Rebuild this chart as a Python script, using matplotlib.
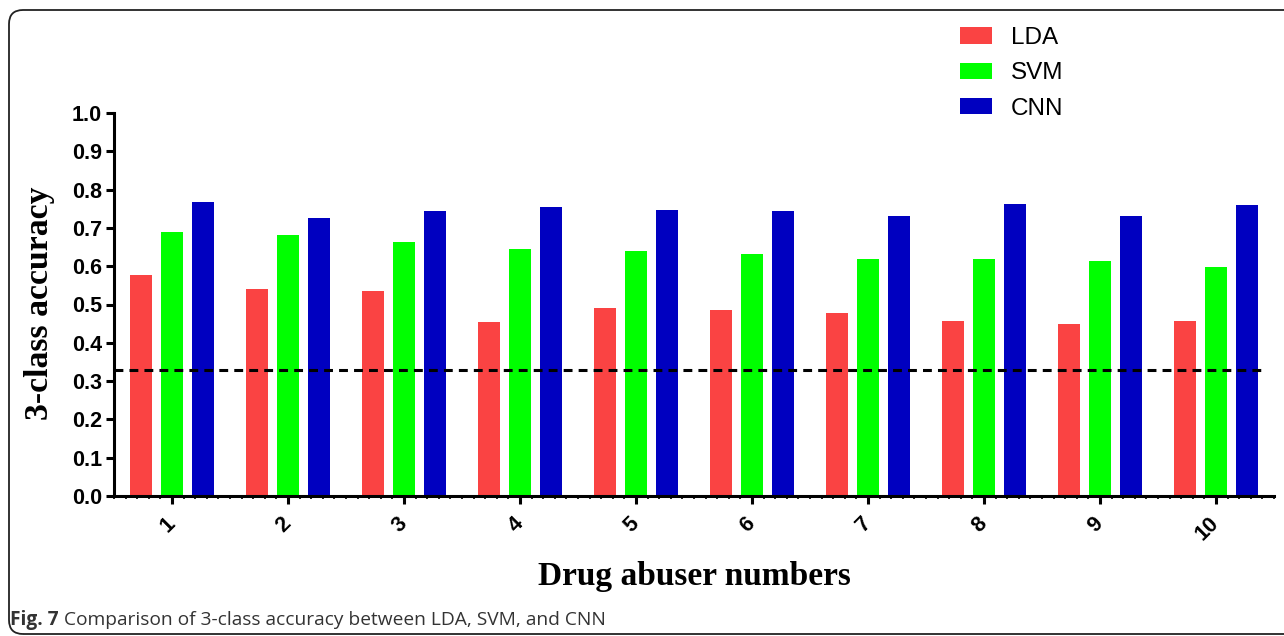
import numpy as np
import matplotlib.pyplot as plt
from matplotlib.patches import FancyBboxPatch
from matplotlib.ticker import MultipleLocator
from matplotlib.transforms import IdentityTransform

plt.rcParams["font.family"] = "Liberation Sans"

subjects = ["1", "2", "3", "4", "5", "6", "7", "8", "9", "10"]
lda = [0.577, 0.540, 0.536, 0.455, 0.491, 0.486, 0.478, 0.457, 0.449, 0.457]
svm = [0.689, 0.681, 0.664, 0.645, 0.640, 0.632, 0.619, 0.619, 0.614, 0.598]
cnn = [0.768, 0.726, 0.745, 0.755, 0.747, 0.745, 0.732, 0.763, 0.731, 0.760]
chance = 0.33
methods = ["LDA", "SVM", "CNN"]
colors = ["#FA4343", "#00FF00", "#0000C0"]

W, H = 1284, 636
fig = plt.figure(figsize=(W / 100, H / 100), dpi=100)

# rounded frame around the whole figure panel
frame = FancyBboxPatch((9, 2), 1290, 624, boxstyle="round,pad=0,rounding_size=14",
                       transform=IdentityTransform(), fill=False,
                       edgecolor="#222222", lw=1.3)
fig.patches.append(frame)

ax = fig.add_axes([114 / W, 1 - 496 / H, (1274 - 114) / W, (496 - 113) / H])

x = np.arange(1, len(subjects) + 1)
bw = 0.19
offsets = [-0.27, 0.0, 0.27]
bars = []
for vals, off, col, name in zip([lda, svm, cnn], offsets, colors, methods):
    bars.append(ax.bar(x + off, vals, bw, color=col, label=name, zorder=2))

# chance level for three classes
ax.hlines(chance, 0.5, 10.4, colors="black", lw=2.2, linestyles=(0, (2.9, 2.0)), zorder=3)

ax.set_xlim(0.5, 10.5)
ax.set_ylim(0, 1.0)
ax.set_yticks(np.arange(0, 1.01, 0.1))
ax.set_yticklabels(["%.1f" % v for v in np.arange(0, 1.01, 0.1)],
                   fontsize=15.5, fontweight="bold")
ax.set_xticks(x)
ax.set_xticklabels(subjects, fontsize=15.5, fontweight="bold", rotation=45,
                   ha="right", va="center", rotation_mode="anchor")
ax.xaxis.set_minor_locator(MultipleLocator(0.1))

for s in ["top", "right"]:
    ax.spines[s].set_visible(False)
for s in ["left", "bottom"]:
    ax.spines[s].set_linewidth(2.2)
ax.tick_params(axis="both", which="major", direction="out", length=5.5, width=2.2, pad=3)
ax.tick_params(axis="x", which="major", pad=12)
ax.tick_params(axis="x", which="minor", direction="out", length=2, width=1.2)

fig.text(40 / W, 1 - 303 / H, "3-class accuracy", rotation=90, ha="center", va="center",
         fontsize=24.3, fontweight="bold", family="Liberation Serif")
fig.text(694 / W, 1 - 577 / H, "Drug abuser numbers", ha="center", va="center",
         fontsize=24, fontweight="bold", family="Liberation Serif")

ax.legend(handles=bars, loc="upper left", bbox_to_anchor=(960 / W, 1 - 27 / H),
          bbox_transform=fig.transFigure, frameon=False, fontsize=17.5,
          handlelength=1.32, handleheight=0.66, handletextpad=0.78,
          labelspacing=0.55, borderpad=0, borderaxespad=0)

# figure caption
r = fig.canvas.get_renderer()
t1 = fig.text(10 / W, 1 - 620 / H, "Fig. 7", fontsize=13.8, fontweight="bold",
              family="Open Sans", color="#333333", va="center")
bb = t1.get_window_extent(renderer=r)
fig.text((bb.x1 + 5) / W, 1 - 620 / H, "Comparison of 3-class accuracy between LDA, SVM, and CNN",
         fontsize=13.8, family="Open Sans", color="#333333", va="center")

fig.savefig("out.png", dpi=100)
